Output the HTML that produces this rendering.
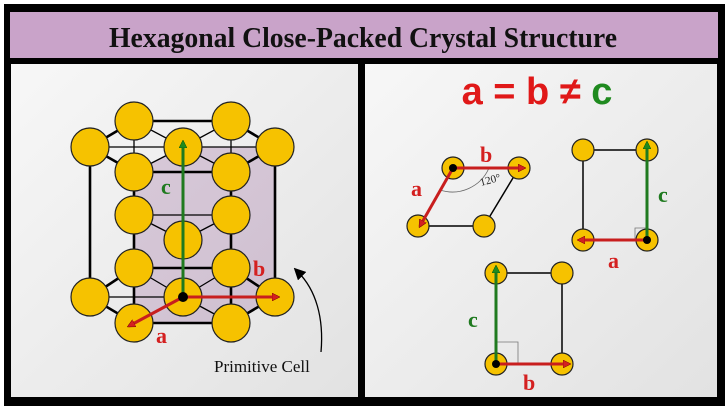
<!DOCTYPE html>
<html><head><style>
html,body{margin:0;padding:0;background:#fff;}
svg{display:block;}
</style></head><body>
<svg width="728" height="412" viewBox="0 0 728 412" xmlns="http://www.w3.org/2000/svg">
<defs>
<linearGradient id="bg" x1="0" y1="0" x2="1" y2="1"><stop offset="0" stop-color="#f7f7f7"/><stop offset="1" stop-color="#e2e2e2"/></linearGradient>
<marker id="ar" markerWidth="8" markerHeight="8" refX="6" refY="4" orient="auto" markerUnits="userSpaceOnUse"><path d="M0,0 L8,4 L0,8 Z" fill="#d42020" stroke="#700" stroke-width="0.5"/></marker>
<marker id="ag" markerWidth="8" markerHeight="8" refX="6" refY="4" orient="auto" markerUnits="userSpaceOnUse"><path d="M0,0 L8,4 L0,8 Z" fill="#1f8a1f" stroke="#050" stroke-width="0.5"/></marker>
<marker id="ak" markerWidth="12" markerHeight="12" refX="6" refY="6" orient="auto" markerUnits="userSpaceOnUse"><path d="M0,0 L12,6 L0,12 Z" fill="#000"/></marker>
</defs>
<rect x="0" y="0" width="728" height="412" fill="#fff"/>
<rect x="4" y="4" width="721" height="402" fill="#000"/>
<rect x="10" y="12" width="708" height="46" fill="#c9a3c9"/>
<text x="109" y="47" textLength="508" lengthAdjust="spacingAndGlyphs" font-family="Liberation Serif, serif" font-weight="bold" font-size="28" fill="#111">Hexagonal Close-Packed Crystal Structure</text>
<rect x="11" y="64" width="347" height="333" fill="url(#bg)"/>
<rect x="365" y="64" width="352" height="333" fill="url(#bg)"/>

<polygon points="183,147 275,147 275,297 231,323 134,323 134,172" fill="#9a6aa0" fill-opacity="0.3"/>
<g stroke="#000" fill="none">
<g stroke-width="1.3">
<line x1="90" y1="147" x2="275" y2="147"/><line x1="90" y1="297" x2="275" y2="297"/>
<line x1="183" y1="147" x2="134" y2="121"/><line x1="183" y1="147" x2="231" y2="121"/>
<line x1="183" y1="147" x2="134" y2="172"/><line x1="183" y1="147" x2="231" y2="172"/>
<line x1="134" y1="121" x2="134" y2="172"/><line x1="231" y1="121" x2="231" y2="172"/>
<line x1="183" y1="297" x2="134" y2="268"/><line x1="183" y1="297" x2="231" y2="268"/>
<line x1="183" y1="297" x2="134" y2="323"/><line x1="183" y1="297" x2="231" y2="323"/>
<line x1="134" y1="215" x2="231" y2="215"/><line x1="134" y1="215" x2="183" y2="240"/><line x1="231" y1="215" x2="183" y2="240"/>
</g>
<g stroke-width="2.6">
<polygon points="134,121 231,121 275,147 231,172 134,172 90,147"/>
<polygon points="134,268 231,268 275,297 231,323 134,323 90,297"/>
<line x1="90" y1="147" x2="90" y2="297"/><line x1="275" y1="147" x2="275" y2="297"/>
<line x1="134" y1="172" x2="134" y2="323"/><line x1="231" y1="172" x2="231" y2="323"/>
</g>
</g>
<g fill="#f6c200" stroke="#222" stroke-width="1.2">
<circle cx="134" cy="121" r="19"/><circle cx="231" cy="121" r="19"/>
<circle cx="90" cy="147" r="19"/><circle cx="183" cy="147" r="19"/><circle cx="275" cy="147" r="19"/>
<circle cx="134" cy="172" r="19"/><circle cx="231" cy="172" r="19"/>
<circle cx="134" cy="215" r="19"/><circle cx="231" cy="215" r="19"/><circle cx="183" cy="240" r="19"/>
<circle cx="134" cy="268" r="19"/><circle cx="231" cy="268" r="19"/>
<circle cx="90" cy="297" r="19"/><circle cx="183" cy="297" r="19"/><circle cx="275" cy="297" r="19"/>
<circle cx="134" cy="323" r="19"/><circle cx="231" cy="323" r="19"/>
</g>
<line x1="183" y1="297" x2="183" y2="142" stroke="#1f7a1f" stroke-width="3" marker-end="url(#ag)"/>
<line x1="183" y1="297" x2="278" y2="297" stroke="#c81e1e" stroke-width="3" marker-end="url(#ar)"/>
<line x1="183" y1="297" x2="129" y2="326" stroke="#c81e1e" stroke-width="3" marker-end="url(#ar)"/>
<circle cx="183" cy="297" r="5" fill="#000"/>
<g font-family="Liberation Serif, serif" font-weight="bold" font-size="22">
<text x="161" y="194" fill="#1f7a1f">c</text>
<text x="253" y="276" fill="#d42020">b</text>
<text x="156" y="343" fill="#d42020">a</text>
</g>
<path d="M321,352 C324,318 316,290 298,272" fill="none" stroke="#000" stroke-width="1.3" marker-end="url(#ak)"/>
<text x="214" y="372" font-family="Liberation Serif, serif" font-size="17" fill="#111">Primitive Cell</text>

<text x="537" y="104" text-anchor="middle" font-family="Liberation Sans, sans-serif" font-weight="bold" font-size="38"><tspan fill="#e01818">a = b ≠ </tspan><tspan fill="#1f8a1f">c</tspan></text>

<g stroke="#000" stroke-width="1.5" fill="none">
<line x1="418" y1="226" x2="484" y2="226"/><line x1="484" y1="226" x2="519" y2="168"/>
<path d="M440,190 A40,40 0 0 0 489,168" stroke="#666" stroke-width="0.8"/>
<polyline points="583,150 647,150"/><line x1="583" y1="150" x2="583" y2="240"/>
<polyline points="635,240 635,228 647,228" stroke="#777" stroke-width="0.8"/>
<line x1="496" y1="273" x2="562" y2="273"/><line x1="562" y1="273" x2="562" y2="364"/>
<polyline points="496,342 518,342 518,364" stroke="#777" stroke-width="0.8"/>
</g>
<g fill="#f6c200" stroke="#222" stroke-width="1.2">
<circle cx="453" cy="168" r="11"/><circle cx="519" cy="168" r="11"/><circle cx="418" cy="226" r="11"/><circle cx="484" cy="226" r="11"/>
<circle cx="583" cy="150" r="11"/><circle cx="647" cy="150" r="11"/><circle cx="583" cy="240" r="11"/><circle cx="647" cy="240" r="11"/>
<circle cx="496" cy="273" r="11"/><circle cx="562" cy="273" r="11"/><circle cx="496" cy="364" r="11"/><circle cx="562" cy="364" r="11"/>
</g>
<text x="481" y="186" font-family="Liberation Serif, serif" font-size="11" fill="#222" transform="rotate(-15 481 186)">120°</text>
<line x1="453" y1="168" x2="524" y2="168" stroke="#c81e1e" stroke-width="3" marker-end="url(#ar)"/>
<line x1="453" y1="168" x2="420" y2="226" stroke="#c81e1e" stroke-width="3" marker-end="url(#ar)"/>
<circle cx="453" cy="168" r="4" fill="#000"/>
<line x1="647" y1="240" x2="647" y2="143" stroke="#1f7a1f" stroke-width="3" marker-end="url(#ag)"/>
<line x1="647" y1="240" x2="579" y2="240" stroke="#c81e1e" stroke-width="3" marker-end="url(#ar)"/>
<circle cx="647" cy="240" r="4" fill="#000"/>
<line x1="496" y1="364" x2="496" y2="267" stroke="#1f7a1f" stroke-width="3" marker-end="url(#ag)"/>
<line x1="496" y1="364" x2="569" y2="364" stroke="#c81e1e" stroke-width="3" marker-end="url(#ar)"/>
<circle cx="496" cy="364" r="4" fill="#000"/>
<g font-family="Liberation Serif, serif" font-weight="bold" font-size="22">
<text x="480" y="162" fill="#d42020">b</text>
<text x="411" y="196" fill="#d42020">a</text>
<text x="658" y="202" fill="#1f7a1f">c</text>
<text x="608" y="268" fill="#d42020">a</text>
<text x="468" y="327" fill="#1f7a1f">c</text>
<text x="523" y="390" fill="#d42020">b</text>
</g>
</svg>
</body></html>
